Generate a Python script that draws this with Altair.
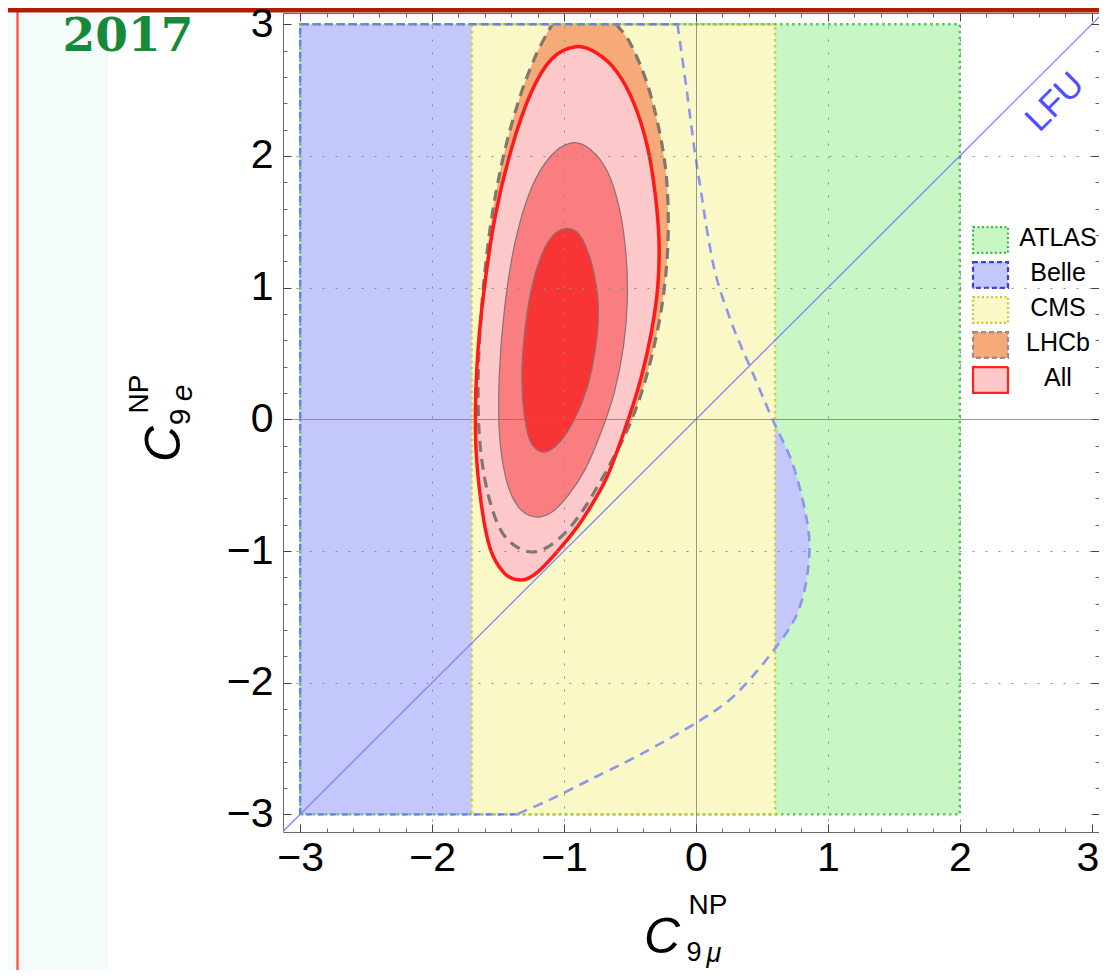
import altair as alt
import pandas as pd

# ---------------- data ----------------
experiments = ["ATLAS", "Belle", "CMS", "LHCb", "All"]
legend_fills = ["#c8f7c5", "#c4c7fb", "#fbf8c8", "#f6aa7a", "#fdc8ca"]
legend_strokes = ["#3cbc3c", "#3340ee", "#c8c832", "#a08a88", "#ff2020"]
legend_styles = ["dot", "dash", "dot", "dash", "solid"]
legend_rows = [0, 1, 2, 3, 4]

# vertical bands (ATLAS, CMS)
band_names = ["ATLAS", "CMS"]
band_x_lo = [-3.0, -1.7]
band_x_hi = [2.0, 0.6]
band_y_lo = [-3.0, -3.0]
band_y_hi = [3.0, 3.0]

# Belle allowed region: left of a curve x(y)
belle_y = [3.0, 2.5, 2.04, 1.72, 1.4, 1.06, 0.68, 0.33, 0.0, -0.33, -0.71, -1.0,
           -1.35, -1.63, -2.06, -2.29, -2.55, -2.74, -2.89, -3.0]
belle_x = [-0.14, -0.07, -0.01, 0.04, 0.09, 0.16, 0.29, 0.44, 0.58, 0.73, 0.83, 0.86,
           0.81, 0.68, 0.33, 0.025, -0.43, -0.81, -1.11, -1.36]
BELLE_LEFT = -3.0
belle_edge_x = [-1.36, -3.0, -3.0, -0.14]
belle_edge_y = [-3.0, -3.0, 3.0, 3.0]

# LHCb contour (open at y = 3, clockwise from top right)
lhcb_x = [-0.605, -0.50, -0.38, -0.29, -0.23, -0.21, -0.22, -0.26, -0.33, -0.42, -0.52, -0.63,
          -0.74, -0.87, -1.02, -1.19, -1.34, -1.48, -1.58, -1.64, -1.65, -1.62, -1.56, -1.47,
          -1.35, -1.22, -1.09]
lhcb_y = [3.0, 2.86, 2.58, 2.25, 1.90, 1.55, 1.20, 0.85, 0.50, 0.18, -0.08, -0.30,
          -0.50, -0.71, -0.89, -1.00, -0.98, -0.84, -0.55, -0.15, 0.35, 0.90, 1.45, 1.95,
          2.40, 2.75, 3.0]

# combined fit contours (outer, middle, inner)
all3_x = [-0.91, -0.75, -0.60, -0.47, -0.37, -0.31, -0.28, -0.29, -0.34, -0.42, -0.53, -0.68,
          -0.86, -1.03, -1.20, -1.32, -1.45, -1.56, -1.63, -1.67, -1.66, -1.61, -1.52, -1.40,
          -1.25, -1.09]
all3_y = [2.83, 2.78, 2.64, 2.40, 2.08, 1.72, 1.35, 1.00, 0.65, 0.30, -0.05, -0.45,
          -0.76, -0.98, -1.16, -1.22, -1.17, -0.98, -0.62, -0.15, 0.40, 0.95, 1.55, 2.05,
          2.48, 2.74]
all2_x = [-0.94, -0.80, -0.67, -0.58, -0.53, -0.52, -0.55, -0.62, -0.72, -0.84, -0.97, -1.10,
          -1.23, -1.35, -1.44, -1.49, -1.49, -1.45, -1.37, -1.25, -1.10]
all2_y = [2.10, 2.05, 1.88, 1.60, 1.25, 0.90, 0.55, 0.20, -0.10, -0.38, -0.58, -0.71,
          -0.74, -0.66, -0.45, -0.10, 0.35, 0.85, 1.35, 1.75, 2.00]
all1_x = [-0.98, -0.88, -0.80, -0.75, -0.74, -0.77, -0.83, -0.92, -1.03, -1.15, -1.25, -1.30,
          -1.32, -1.30, -1.25, -1.17, -1.08]
all1_y = [1.45, 1.40, 1.22, 0.98, 0.75, 0.48, 0.22, 0.00, -0.17, -0.25, -0.18, 0.02,
          0.32, 0.65, 0.98, 1.25, 1.40]

# LFU diagonal and its label
lfu_x = [-3.3, 3.3]
lfu_y = [-3.3, 3.3]
lfu_label_x = [2.72]
lfu_label_y = [2.41]

major_ticks = [-3, -2, -1, 0, 1, 2, 3]
minor_ticks = [round(-3 + 0.2 * i, 1) for i in range(31) if i % 5]

# ---------------- helpers ----------------
F = "Liberation Sans"
xsc = alt.Scale(domain=[-3.13, 3.055], nice=False, zero=False)
ysc = alt.Scale(domain=[-3.134, 3.086], nice=False, zero=False)


def pts(xv, yv):
    return pd.DataFrame({"x": xv, "y": yv, "k": list(range(len(xv)))})


def XY(ax_x=None, ax_y=None):
    return dict(x=alt.X("x:Q", scale=xsc, axis=ax_x), y=alt.Y("y:Q", scale=ysc, axis=ax_y))


grid_dash = {"condition": {"test": "datum.value === 0", "value": [1, 0]}, "value": [2, 11]}
grid_color = {"condition": {"test": "datum.value === 0", "value": "#777777"}, "value": "#8c8c8c"}
grid_op = {"condition": {"test": "abs(datum.value) > 2.5", "value": 0}, "value": 1}


def lab_axis(orient, pad, extra=None):
    kw = dict(orient=orient, values=major_ticks, format="d", title=None, domain=False,
              ticks=False, tickSize=0, labelFont=F, labelFontSize=41, labelColor="black",
              labelPadding=pad, labelFlush=False, labelOverlap=False, grid=True,
              gridDash=grid_dash, gridColor=grid_color, gridOpacity=grid_op, gridWidth=1,
              zindex=1)
    if extra:
        kw.update(extra)
    return alt.Axis(**kw)


# keep the right-most x label ("3") inside the picture
x_label_fix = {
    "labelAlign": {"condition": {"test": "datum.value === 3", "value": "right"}, "value": "center"},
    "labelOffset": {"condition": {"test": "datum.value === 3", "value": 7}, "value": 0},
}


def tick_axis(orient, vals, size, color):
    return alt.Axis(orient=orient, values=vals, title=None, domain=False, labels=False,
                    grid=False, ticks=True, tickSize=size, tickColor=color, tickWidth=1,
                    offset=-size, zindex=1)


one = pd.DataFrame({"d": [0]})

# ---------------- layers ----------------
bands = pd.DataFrame({"exp": band_names, "x1": band_x_lo, "x2": band_x_hi,
                      "y1": band_y_lo, "y2": band_y_hi})


def band(name):
    return alt.Chart(bands).transform_filter(f"datum.exp == '{name}'")


left_panel = alt.Chart(one).mark_rect(color="#f3fbfb").encode(
    x=alt.value(-275), x2=alt.value(-175), y=alt.value(-5), y2=alt.value(965))
red_line = alt.Chart(one).mark_rule(color="#ff4a3a", strokeWidth=2.2).encode(
    x=alt.value(-265.5), y=alt.value(-5), y2=alt.value(965))
year = alt.Chart(one).mark_text(text="2017", font="DejaVu Serif", fontWeight="bold",
                                fontSize=47, color="#17893a", align="center",
                                baseline="middle").encode(x=alt.value(-155), y=alt.value(24))

atlas_fill = band("ATLAS").mark_rect(fill="#c8f7c5", strokeWidth=0, clip=True).encode(
    x=alt.X("x1:Q", scale=xsc, axis=lab_axis("bottom", 6, x_label_fix)), x2="x2:Q",
    y=alt.Y("y1:Q", scale=ysc, axis=lab_axis("left", 10)), y2="y2:Q")

belle_fill = alt.Chart(pts(belle_x, belle_y)).mark_area(
    orient="horizontal", interpolate="cardinal", fill="#c4c7fb", clip=True).encode(
    y=alt.Y("y:Q", scale=ysc, axis=tick_axis("left", major_ticks, 8, "#444444")),
    x=alt.X("x:Q", scale=xsc, axis=tick_axis("bottom", major_ticks, 8, "#444444")),
    x2=alt.datum(BELLE_LEFT))

cms_fill = band("CMS").mark_rect(fill="#fbf8c8", strokeWidth=0, clip=True).encode(
    x=alt.X("x1:Q", scale=xsc, axis=tick_axis("bottom", minor_ticks, 4, "#666666")), x2="x2:Q",
    y=alt.Y("y1:Q", scale=ysc, axis=tick_axis("left", minor_ticks, 4, "#666666")), y2="y2:Q")

lhcb_fill = alt.Chart(pts(lhcb_x, lhcb_y)).mark_line(
    interpolate="cardinal", fill="#f6aa7a", strokeOpacity=0, clip=True).encode(
    **XY(tick_axis("top", major_ticks, 8, "#444444"), tick_axis("right", major_ticks, 8, "#444444")),
    order="k:Q")

all_outer = alt.Chart(pts(all3_x, all3_y)).mark_line(
    interpolate="cardinal-closed", fill="#fdc8ca", strokeOpacity=0, clip=True).encode(
    **XY(tick_axis("top", minor_ticks, 4, "#666666"), tick_axis("right", minor_ticks, 4, "#666666")),
    order="k:Q")

all_mid = alt.Chart(pts(all2_x, all2_y)).mark_line(
    interpolate="cardinal-closed", fill="#fa7e80", stroke="#8a7272", strokeWidth=1.2,
    clip=True).encode(**XY(), order="k:Q")

all_inner = alt.Chart(pts(all1_x, all1_y)).mark_line(
    interpolate="cardinal-closed", fill="#f93434", stroke="#8a7272", strokeWidth=1.2,
    clip=True).encode(**XY(), order="k:Q")

lhcb_border = alt.Chart(pts(lhcb_x, lhcb_y)).mark_line(
    interpolate="cardinal", stroke="#80776f", strokeWidth=3.2, strokeDash=[11, 7],
    clip=True).encode(**XY(), order="k:Q")

all_outer_line = alt.Chart(pts(all3_x, all3_y)).mark_line(
    interpolate="cardinal-closed", stroke="#ff1a1a", strokeWidth=3.5, clip=True).encode(
    **XY(), order="k:Q")


def band_border(name, color):
    return band(name).mark_rect(filled=False, stroke=color, strokeWidth=2.4,
                                strokeDash=[2.5, 3.5], clip=True).encode(
        x=alt.X("x1:Q", scale=xsc, axis=None), x2="x2:Q",
        y=alt.Y("y1:Q", scale=ysc, axis=None), y2="y2:Q")


atlas_border = band_border("ATLAS", "#55c455")
cms_border = band_border("CMS", "#d0cc3c")

belle_curve = alt.Chart(pts(belle_x, belle_y)).mark_line(
    interpolate="cardinal", stroke="#8d96ef", strokeWidth=2.6, strokeDash=[10, 7],
    clip=True).encode(**XY(), order="k:Q")

belle_edges = alt.Chart(pts(belle_edge_x, belle_edge_y)).mark_line(
    stroke="#6f7de8", strokeWidth=2.4, strokeDash=[7, 5], clip=True).encode(**XY(), order="k:Q")

lfu_line = alt.Chart(pts(lfu_x, lfu_y)).mark_line(
    stroke="#8080ff", strokeWidth=1.3, clip=True).encode(**XY(), order="k:Q")

lfu_text = alt.Chart(pd.DataFrame({"x": lfu_label_x, "y": lfu_label_y, "t": ["LFU"]})).mark_text(
    angle=315, fontSize=35, font=F, color="#4f4fff", align="center", baseline="middle").encode(
    **XY(), text="t:N")

# ---------------- legend (swatches + labels) ----------------
legend_df = pd.DataFrame({"exp": experiments, "fill": legend_fills, "stroke": legend_strokes,
                          "row": legend_rows, "style": legend_styles})
SWATCH = "M-1,-0.74H1V0.74H-1Z"
swatch_rows = alt.Scale(domain=[0, 4], range=[227, 367])
label_rows = alt.Scale(domain=[0, 4], range=[225, 365])


def swatch(style, dash):
    return alt.Chart(legend_df).transform_filter(f"datum.style == '{style}'").mark_point(
        shape=SWATCH, size=1225, filled=True, opacity=1, strokeWidth=2.2,
        strokeDash=dash).encode(
        x=alt.value(707.5), y=alt.Y("row:Q", scale=swatch_rows, axis=None),
        fill=alt.Fill("fill:N", scale=None), stroke=alt.Stroke("stroke:N", scale=None))


legend_layers = [
    swatch("dot", [2, 2.5]),
    swatch("dash", [5, 3]),
    swatch("solid", [1, 0]),
    alt.Chart(legend_df).mark_text(font=F, fontSize=25, color="black", align="center",
                                   baseline="middle").encode(
        x=alt.value(775), y=alt.Y("row:Q", scale=label_rows, axis=None), text="exp:N"),
]


def piece(txt, px, py, size, italic=False, angle=0):
    kw = dict(text=txt, font=F, fontSize=size, color="black", align="center", baseline="middle")
    if italic:
        kw["fontStyle"] = "italic"
    if angle:
        kw["angle"] = angle
    return alt.Chart(one).mark_text(**kw).encode(x=alt.value(px), y=alt.value(py))


titles = [
    piece("C", 379, 925, 50, italic=True),
    piece("NP", 425, 893, 28),
    piece("9", 411, 940, 27),
    piece("μ", 431, 941, 27, italic=True),
    piece("C", -118, 431, 50, italic=True, angle=270),
    piece("NP", -143, 381, 28, angle=270),
    piece("9", -102, 404, 30, angle=270),
    piece("e", -100, 380, 30, italic=True, angle=270),
]

top_bar = alt.Chart(one).mark_rect(color="#b21c02").encode(
    x=alt.value(-275), x2=alt.value(820), y=alt.value(-5), y2=alt.value(-0.5))

chart = alt.layer(
    left_panel, red_line, year,
    atlas_fill, belle_fill, cms_fill, lhcb_fill, all_outer, all_mid, all_inner,
    lhcb_border, all_outer_line, atlas_border, cms_border, belle_curve, belle_edges,
    lfu_line, lfu_text, *legend_layers, *titles, top_bar
).resolve_scale(y="independent").resolve_axis(x="independent", y="independent").properties(
    width=816, height=819,
    padding={"left": 275, "top": 5, "right": 0, "bottom": 138},
    autosize=alt.AutoSizeParams(type="none"),
    background="white",
).configure_view(stroke="#6a6a6a", strokeWidth=1)

chart.save("out.html", embed_options={"renderer": "svg", "actions": False})
